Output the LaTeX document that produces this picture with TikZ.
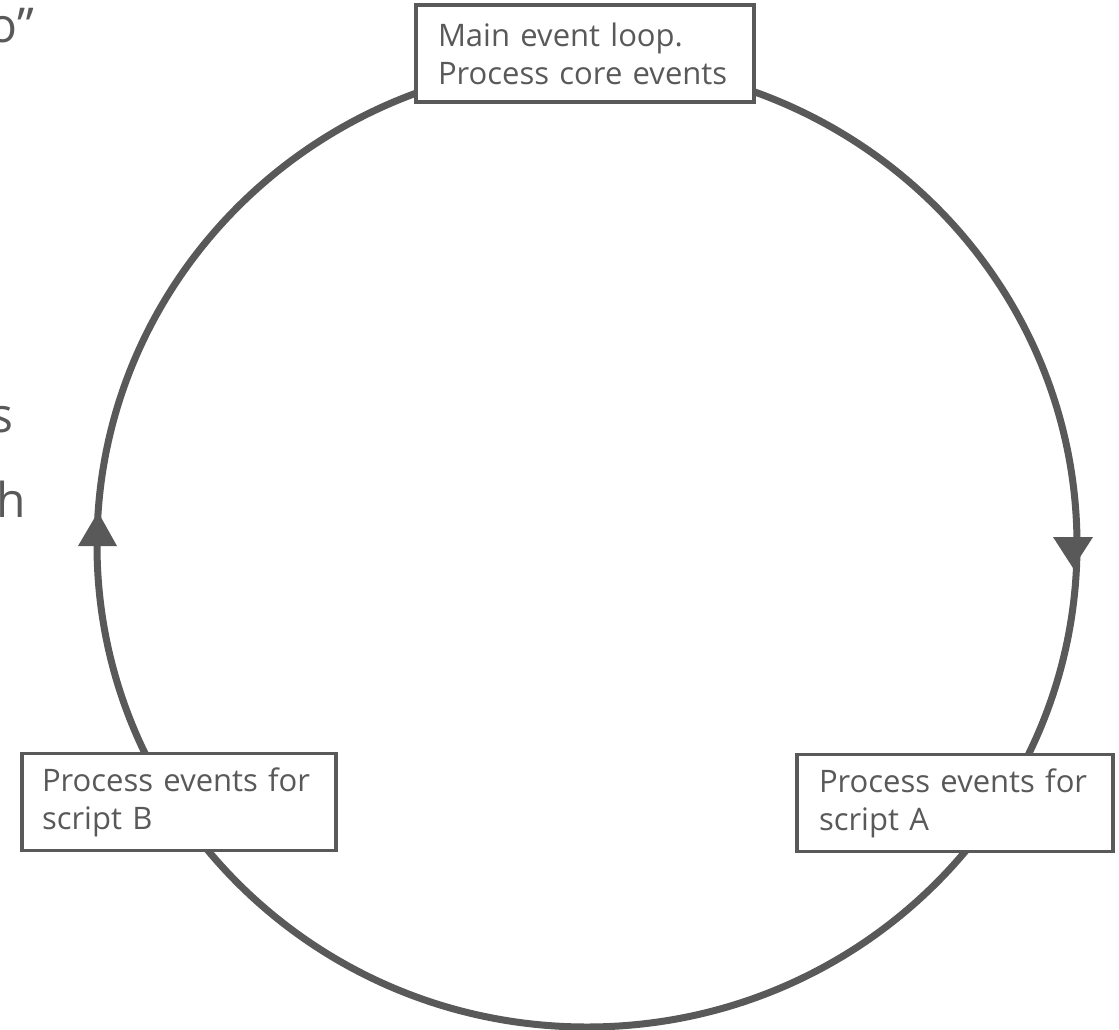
\documentclass[tikz,border=0pt]{standalone}
\usepackage{fontspec}
\setmainfont{Open Sans}
\definecolor{ink}{HTML}{595959}
\tikzset{
  loopline/.style={draw=ink, line width=7pt},
  tip/.style={fill=ink, draw=none},
  stagebox/.style={draw=ink, line width=3.3pt, fill=white, rectangle,
    inner ysep=0pt, minimum height=97pt,
    align=left, text=ink, font=\fontsize{31pt}{38pt}\selectfont},
  bigtext/.style={anchor=base east, inner sep=0pt, text=ink,
    font=\fontsize{48pt}{58pt}\selectfont}
}
\begin{document}
\begin{tikzpicture}[x=1pt, y=-1pt]
  \useasboundingbox (0,0) rectangle (1119,1030);
  \clip (0,0) rectangle (1119,1030);
  \fill[white] (0,0) rectangle (1119,1030);

  % text running in from the left edge
  \node[bigtext] (frag1) at (34,43) {o”};
  \node[bigtext] (frag2) at (14,432) {s};
  \node[bigtext] (frag3) at (26,517) {h};

  % the loop
  \draw[loopline] (587,545) ellipse [x radius=490pt, y radius=482pt];

  % direction marks on the loop
  \path[tip] (1053,537) -- (1093,537) -- (1073,568) -- cycle;
  \path[tip] (78,546) -- (117,546) -- (98,512) -- cycle;

  % stages of the loop
  \node[stagebox, inner xsep=22pt, text width=294pt] (core) at (585,53.5)
    {Main~event~loop.\\Process~core~events};
  \node[stagebox, inner xsep=20pt, text width=274pt] (scriptB) at (179,802)
    {Process~events~for\\script~B};
  \node[stagebox, inner xsep=22pt, text width=272pt] (scriptA) at (955,803)
    {Process~events~for\\script~A};
\end{tikzpicture}
\end{document}
